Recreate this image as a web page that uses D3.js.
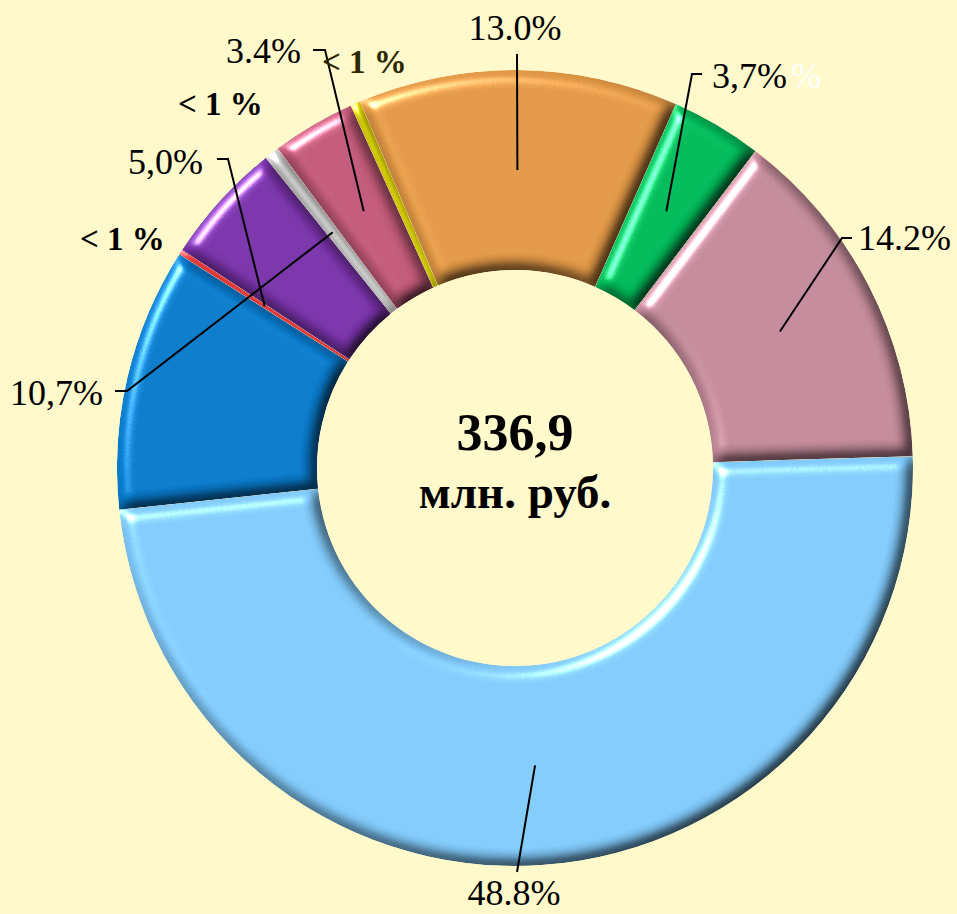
<!DOCTYPE html>
<html>
<head>
<meta charset="utf-8">
<script src="https://cdn.jsdelivr.net/npm/d3@7"></script>
<style>
  html, body { margin: 0; padding: 0; background: #FFF9CB; }
  svg { display: block; }
</style>
</head>
<body>
<div id="chart"></div>
<script>
// segment shares, clockwise starting from the big light blue one
const shares = [48.8, 10.7, 0.2, 5.0, 0.6, 3.4, 0.4, 13.0, 3.7, 14.2];
const segColors = ["#80C8F8", "#0878C8", "#E03434", "#7832A8", "#C8C8C8",
                   "#C05878", "#C8C000", "#DF9645", "#00B858", "#C08898"];
// labels with leader lines and the segment each leader points at
const labelTexts = ["48.8%", "10,7%", "5,0%", "3.4%", "13.0%", "3,7%", "14.2%"];
const labelTargets = [0, 4, 2, 5, 7, 8, 9];
const smallLabels = ["< 1 %", "< 1 %", "< 1 %"];
const totalValue = "336,9";
const totalUnit = "млн. руб.";

// label placement (layout only)
const labelLayout = [
  {x: 514, y: 905, anchor: "middle", pts: [[517, 872]]},
  {x: 103, y: 405, anchor: "end",    pts: [[115, 391], [127, 391]]},
  {x: 203, y: 174, anchor: "end",    pts: [[217, 159], [228, 159]]},
  {x: 301, y: 63,  anchor: "end",    pts: [[313, 50], [325, 50]]},
  {x: 515, y: 40,  anchor: "middle", pts: [[517, 54]]},
  {x: 712, y: 88,  anchor: "start",  pts: [[702, 74], [692, 74]]},
  {x: 858, y: 250, anchor: "start",  pts: [[852, 238], [842, 238]]}
];
const smallLayout = [{x: 322, y: 73, c: "#2b2700"}, {x: 178, y: 115, c: "#000"}, {x: 80, y: 250, c: "#000"}];

const width = 957, height = 914;
const cx = 515, cy = 468, rOut = 398, rIn = 198;
const start = 88.3 * Math.PI / 180;

const svg = d3.select("#chart").append("svg")
  .attr("width", width).attr("height", height);

svg.append("rect").attr("width", width).attr("height", height).attr("fill", "#FFF9CB");

// bevel look: blurred alpha used as a height map, lit from the upper left
const defs = svg.append("defs");
const f = defs.append("filter").attr("id", "bevel")
  .attr("x", "-10%").attr("y", "-10%").attr("width", "120%").attr("height", "120%")
  .attr("color-interpolation-filters", "sRGB");
f.append("feGaussianBlur").attr("in", "SourceAlpha").attr("stdDeviation", 7).attr("result", "b");
f.append("feDiffuseLighting").attr("in", "b").attr("surfaceScale", 8).attr("diffuseConstant", 1.15)
  .attr("lighting-color", "#fff").attr("result", "d")
  .append("feDistantLight").attr("azimuth", 225).attr("elevation", 60);
f.append("feSpecularLighting").attr("in", "b").attr("surfaceScale", 8).attr("specularConstant", 0.8)
  .attr("specularExponent", 35).attr("lighting-color", "#fff").attr("result", "s")
  .append("feDistantLight").attr("azimuth", 225).attr("elevation", 40);
f.append("feComposite").attr("in", "SourceGraphic").attr("in2", "d").attr("operator", "arithmetic")
  .attr("k1", 1).attr("k2", 0).attr("k3", 0).attr("k4", 0).attr("result", "lit");
f.append("feComposite").attr("in", "s").attr("in2", "SourceAlpha").attr("operator", "in").attr("result", "s2");
f.append("feComposite").attr("in", "lit").attr("in2", "s2").attr("operator", "arithmetic")
  .attr("k1", 0).attr("k2", 1).attr("k3", 1).attr("k4", 0).attr("result", "o");
f.append("feComposite").attr("in", "o").attr("in2", "SourceAlpha").attr("operator", "in");

const pie = d3.pie().sort(null).value(d => d).startAngle(start).endAngle(start + 2 * Math.PI);
const arcs = pie(shares);
const arc = d3.arc().innerRadius(rIn).outerRadius(rOut);

const g = svg.append("g").attr("transform", `translate(${cx},${cy})`);
g.selectAll("path.seg").data(arcs).join("path")
  .attr("class", "seg")
  .attr("d", arc)
  .attr("fill", (d, i) => segColors[i])
  .attr("filter", "url(#bevel)");

// leader lines + labels
const line = d3.line();
labelTexts.forEach((t, i) => {
  const L = labelLayout[i];
  const c = arc.centroid(arcs[labelTargets[i]]);
  const pts = L.pts.concat([[c[0] + cx, c[1] + cy]]);
  svg.append("path").attr("d", line(pts)).attr("fill", "none")
    .attr("stroke", "#000").attr("stroke-width", 2);
  const tx = svg.append("text").attr("x", L.x).attr("y", L.y)
    .attr("text-anchor", L.anchor)
    .attr("font-family", "Liberation Serif, Times New Roman, serif")
    .attr("font-size", 36).attr("fill", "#000").text(t);
  if (i === 5) tx.append("tspan").attr("fill", "#fff").attr("dx", 4).text("%");
});

smallLabels.forEach((t, i) => {
  const L = smallLayout[i];
  svg.append("text").attr("x", L.x).attr("y", L.y)
    .attr("font-family", "Liberation Serif, Times New Roman, serif")
    .attr("font-weight", "bold").attr("font-size", 33).attr("fill", L.c)
    .text(t);
});

// centre total
svg.append("text").attr("x", cx).attr("y", 450).attr("text-anchor", "middle")
  .attr("font-family", "Liberation Serif, Times New Roman, serif")
  .attr("font-weight", "bold").attr("font-size", 52).text(totalValue);
svg.append("text").attr("x", cx).attr("y", 508).attr("text-anchor", "middle")
  .attr("font-family", "Liberation Serif, Times New Roman, serif")
  .attr("font-weight", "bold").attr("font-size", 47).text(totalUnit);
</script>
</body>
</html>
